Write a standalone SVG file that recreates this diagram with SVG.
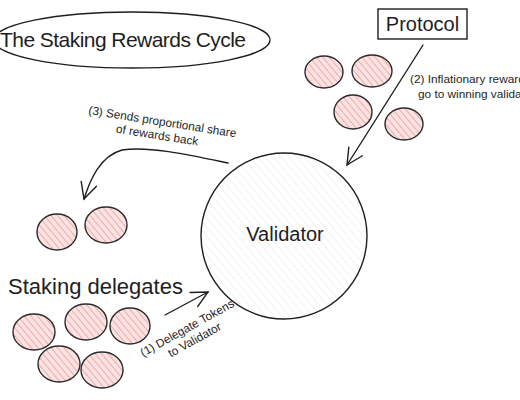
<svg xmlns="http://www.w3.org/2000/svg" width="520" height="400" viewBox="0 0 520 400">
<defs>
<pattern id="pink" patternUnits="userSpaceOnUse" width="5" height="5" patternTransform="rotate(-40)">
<rect width="5" height="5" fill="#fce3e3"/>
<line x1="0" y1="0" x2="0" y2="5" stroke="#ef9a9a" stroke-width="1.6"/>
</pattern>
<pattern id="grey" patternUnits="userSpaceOnUse" width="6" height="6" patternTransform="rotate(-40)">
<rect width="6" height="6" fill="#ffffff"/>
<line x1="0" y1="0" x2="0" y2="6" stroke="#e3e3e3" stroke-width="1"/>
</pattern>
<marker id="arr" viewBox="0 0 20 20" refX="18" refY="10" markerWidth="20" markerHeight="20" markerUnits="userSpaceOnUse" orient="auto">
<path d="M2,2 L18,10 L2,18" fill="none" stroke="#1e1e1e" stroke-width="1.4" stroke-linecap="round"/>
</marker>
<style>
.t{font-family:"Liberation Sans","DejaVu Sans",sans-serif;fill:#1e1e1e}
.big{font-size:20px}
.sm{font-size:11.8px}
.tok{fill:url(#pink);stroke:#2a2a2a;stroke-width:1.4}
.ln{fill:none;stroke:#1e1e1e;stroke-width:1.4;stroke-linecap:round}
</style>
</defs>
<rect width="520" height="400" fill="#ffffff"/>

<g id="title">
<ellipse cx="132" cy="40" rx="138" ry="28" fill="none" stroke="#1e1e1e" stroke-width="1.3"/>
<text class="t" font-size="21" x="0" y="47" textLength="246">The Staking Rewards Cycle</text>
</g>

<g id="protocol">
<rect x="378" y="9" width="89" height="30" fill="#fff" stroke="#1e1e1e" stroke-width="1.4"/>
<text class="t big" x="422.5" y="31" text-anchor="middle">Protocol</text>
</g>

<g id="reward-tokens">
<ellipse class="tok" cx="324" cy="72" rx="19" ry="16"/>
<ellipse class="tok" cx="372" cy="71" rx="20" ry="16"/>
<ellipse class="tok" cx="353" cy="112" rx="19" ry="17"/>
<ellipse class="tok" cx="404" cy="124" rx="19" ry="16"/>
</g>

<g id="validator">
<circle cx="284" cy="236" r="83" fill="url(#grey)" stroke="#1e1e1e" stroke-width="1.4"/>
<text class="t big" x="285" y="241" text-anchor="middle">Validator</text>
</g>

<g id="returned-tokens">
<ellipse class="tok" cx="57" cy="232" rx="20" ry="18"/>
<ellipse class="tok" cx="106" cy="225" rx="21" ry="18"/>
</g>

<g id="delegates">
<text class="t" font-size="22" x="8" y="294">Staking delegates</text>
<ellipse class="tok" cx="34" cy="332" rx="21" ry="18"/>
<ellipse class="tok" cx="86" cy="322" rx="21" ry="18"/>
<ellipse class="tok" cx="130" cy="326" rx="20" ry="18"/>
<ellipse class="tok" cx="59" cy="364" rx="21" ry="18"/>
<ellipse class="tok" cx="102" cy="370" rx="21" ry="18"/>
</g>

<g id="connectors">
<path class="ln" d="M423,45 L347,165" marker-end="url(#arr)"/>
<path class="ln" d="M228,163 C190,155 150,146 122,150 C100,156 90,180 84,199" marker-end="url(#arr)"/>
<path class="ln" d="M165,315 L208,292" marker-end="url(#arr)"/>
</g>

<g id="labels">
<text class="t sm" x="410" y="83">(2) Inflationary rewards</text>
<text class="t sm" x="418" y="98">go to winning validators</text>
<g transform="rotate(9 88 114)">
<text class="t sm" x="88" y="114">(3) Sends proportional share</text>
<text class="t sm" x="118" y="128">of rewards back</text>
</g>
<g transform="rotate(-29 143 357)">
<text class="t sm" x="143" y="357">(1) Delegate Tokens</text>
<text class="t sm" x="167" y="371">to Validator</text>
</g>
</g>
</svg>
